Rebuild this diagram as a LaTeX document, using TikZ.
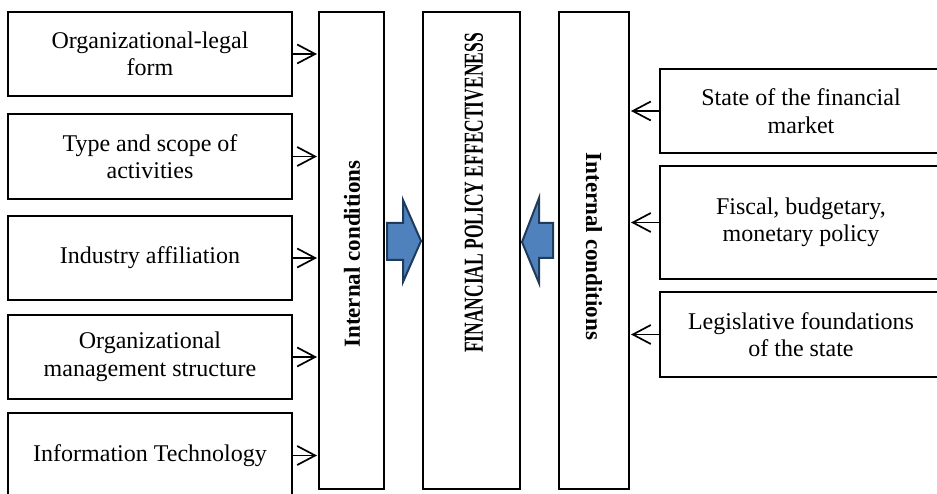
\documentclass[tikz,border=0pt]{standalone}
\usepackage{fontspec}
\setmainfont{Liberation Serif}
\usetikzlibrary{arrows.meta}
\definecolor{arrfill}{HTML}{4F81BD}
\definecolor{arrline}{HTML}{1F3B5C}
\tikzset{
  box/.style={draw=black, line width=2pt, rectangle, inner sep=0pt, align=center,
    font=\fontsize{24}{27.5}\selectfont},
  col/.style={draw=black, line width=2pt, rectangle, inner sep=0pt},
  coltext/.style={font=\fontsize{23}{26}\selectfont\bfseries, inner sep=0pt},
  conn/.style={line width=1.7pt, -{Straight Barb[length=18pt,width=19pt,line width=1.7pt]}},
  blockarrow/.style={draw=arrline, fill=arrfill, line width=2pt, line join=miter}
}
\begin{document}
\begin{tikzpicture}[x=1pt,y=-1pt]
\useasboundingbox (0,0) rectangle (937,494);
\clip (0,0) rectangle (937,494);
% left boxes
\node[box, minimum width=284pt, minimum height=84pt] (b1) at (150,54) {Organizational-legal\\form};
\node[box, minimum width=284pt, minimum height=85pt] (b2) at (150,156.5) {Type and scope of\\activities};
\node[box, minimum width=284pt, minimum height=84pt] (b3) at (150,258) {Industry affiliation};
\node[box, minimum width=284pt, minimum height=84pt] (b4) at (150,357) {Organizational\\management structure};
\node[box, minimum width=284pt, minimum height=85pt] (b5) at (150,455.5) {Information Technology};
% columns
\node[col, minimum width=65pt, minimum height=477pt] (lc) at (351.5,250.5) {};
\node[coltext, rotate=90] (lct) at (352,254) {Internal conditions};
\node[col, minimum width=97pt, minimum height=477pt] (mc) at (471.5,250.5) {};
\node[coltext, rotate=90, font=\fontsize{22}{26}\selectfont\bfseries] (mct) at (474,193) {\scalebox{0.795}[1.25]{FINANCIAL POLICY EFFECTIVENESS}};
\node[col, minimum width=70pt, minimum height=477pt] (rc) at (594,250.5) {};
\node[coltext, rotate=-90] (rct) at (594,246.5) {Internal conditions};
% right boxes
\node[box, minimum width=282pt, minimum height=84pt] (r1) at (801,111) {State of the financial\\market};
\node[box, minimum width=282pt, minimum height=113pt] (r2) at (801,222.5) {Fiscal, budgetary,\\monetary policy};
\node[box, minimum width=282pt, minimum height=85pt] (r3) at (801,334.5) {Legislative foundations\\of the state};
% connectors
\foreach \b in {b1,b2,b3,b4,b5}{
  \draw[conn] (\b.east) -- ([xshift=-1pt]\b.east -| lc.west);
}
\foreach \r in {r1,r2,r3}{
  \draw[conn] (\r.west) -- ([xshift=1pt]\r.west -| rc.east);
}
% block arrows
\draw[blockarrow] (387,223) -- (403,223) -- (403,200) -- (421,241) -- (403,282) -- (403,260) -- (387,260) -- cycle;
\draw[blockarrow] (553,223) -- (539,223) -- (539,198) -- (522,242) -- (539,283) -- (539,258) -- (553,258) -- cycle;
\end{tikzpicture}
\end{document}
